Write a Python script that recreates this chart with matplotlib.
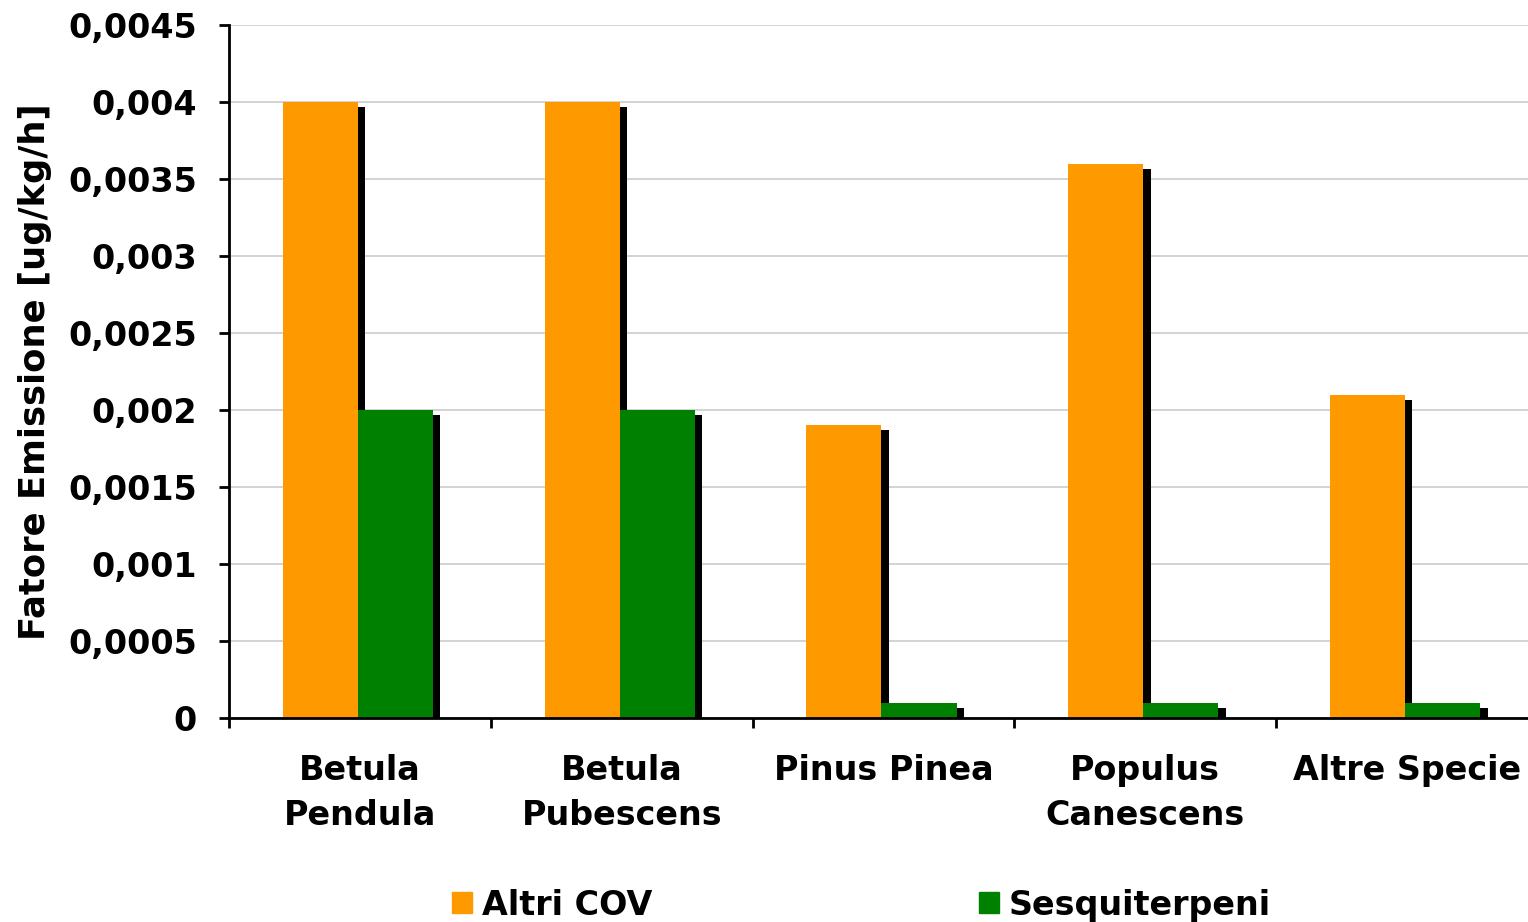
import numpy as np
import matplotlib
matplotlib.use('Agg')
import matplotlib.pyplot as plt

# data
categories = ["Betula\nPendula", "Betula\nPubescens", "Pinus Pinea", "Populus\nCanescens", "Altre Specie"]
altri_cov = [0.004, 0.004, 0.0019, 0.0036, 0.0021]
sesquiterpeni = [0.002, 0.002, 0.0001, 0.0001, 0.0001]
y_ticks = [0, 0.0005, 0.001, 0.0015, 0.002, 0.0025, 0.003, 0.0035, 0.004, 0.0045]
y_labels = ["0", "0,0005", "0,001", "0,0015", "0,002", "0,0025", "0,003", "0,0035", "0,004", "0,0045"]

plt.rcParams['font.family'] = ['DejaVu Sans']
plt.rcParams['font.weight'] = 'bold'

fig = plt.figure(figsize=(15.28, 9.22), dpi=100)
ax = fig.add_axes([0.1499, 0.2213, 0.8567, 0.7516])

x = np.arange(len(categories))
w = 0.287
shift = -0.008
# shadow offsets (about 7 px right, 5 px down)
dx = 0.028
dy = 0.0045 * 5 / 693

for vals, col, off in [(altri_cov, '#FF9900', -w / 2), (sesquiterpeni, '#008000', w / 2)]:
    vals = np.array(vals)
    ax.bar(x + shift + off + dx, vals - dy, width=w, color='black', zorder=2)
    ax.bar(x + shift + off, vals, width=w, color=col, zorder=3)

ax.set_xlim(-0.5, len(categories) - 0.5)
ax.set_ylim(0, 0.0045)
ax.set_yticks(y_ticks)
ax.set_yticklabels(y_labels, fontsize=24, fontweight='bold')
ax.set_xticks(np.arange(len(categories) + 1) - 0.5)
ax.set_xticklabels([])
ax.set_xticks(x, minor=True)
ax.set_xticklabels(categories, minor=True, fontsize=24, fontweight='bold', linespacing=1.47)
ax.tick_params(axis='x', which='minor', length=0, pad=26)
ax.tick_params(axis='x', which='major', direction='out', length=7, width=2)
ax.tick_params(axis='y', direction='out', length=7, width=2, pad=16)

ax.grid(axis='y', color='#cccccc', linewidth=1.2, zorder=0)
ax.set_axisbelow(True)
for s in ['top', 'right']:
    ax.spines[s].set_visible(False)
for s in ['left', 'bottom']:
    ax.spines[s].set_linewidth(2)
    ax.spines[s].set_color('black')
    ax.spines[s].set_zorder(4)

ax.set_ylabel("Fatore Emissione [ug/kg/h]", fontsize=25.5, fontweight='bold', labelpad=12)

handles = [plt.Rectangle((0, 0), 1, 1, color='#FF9900'), plt.Rectangle((0, 0), 1, 1, color='#008000')]
fig.legend(handles, ["Altri COV", "Sesquiterpeni"], loc='center', bbox_to_anchor=(0.5636, 1 - 905 / 922),
           ncol=2, frameon=False, prop={'size': 24, 'weight': 'bold'},
           handlelength=0.6, handleheight=0.6, handletextpad=0.3, columnspacing=9.8, borderpad=0)

fig.savefig("out.png", dpi=100)
